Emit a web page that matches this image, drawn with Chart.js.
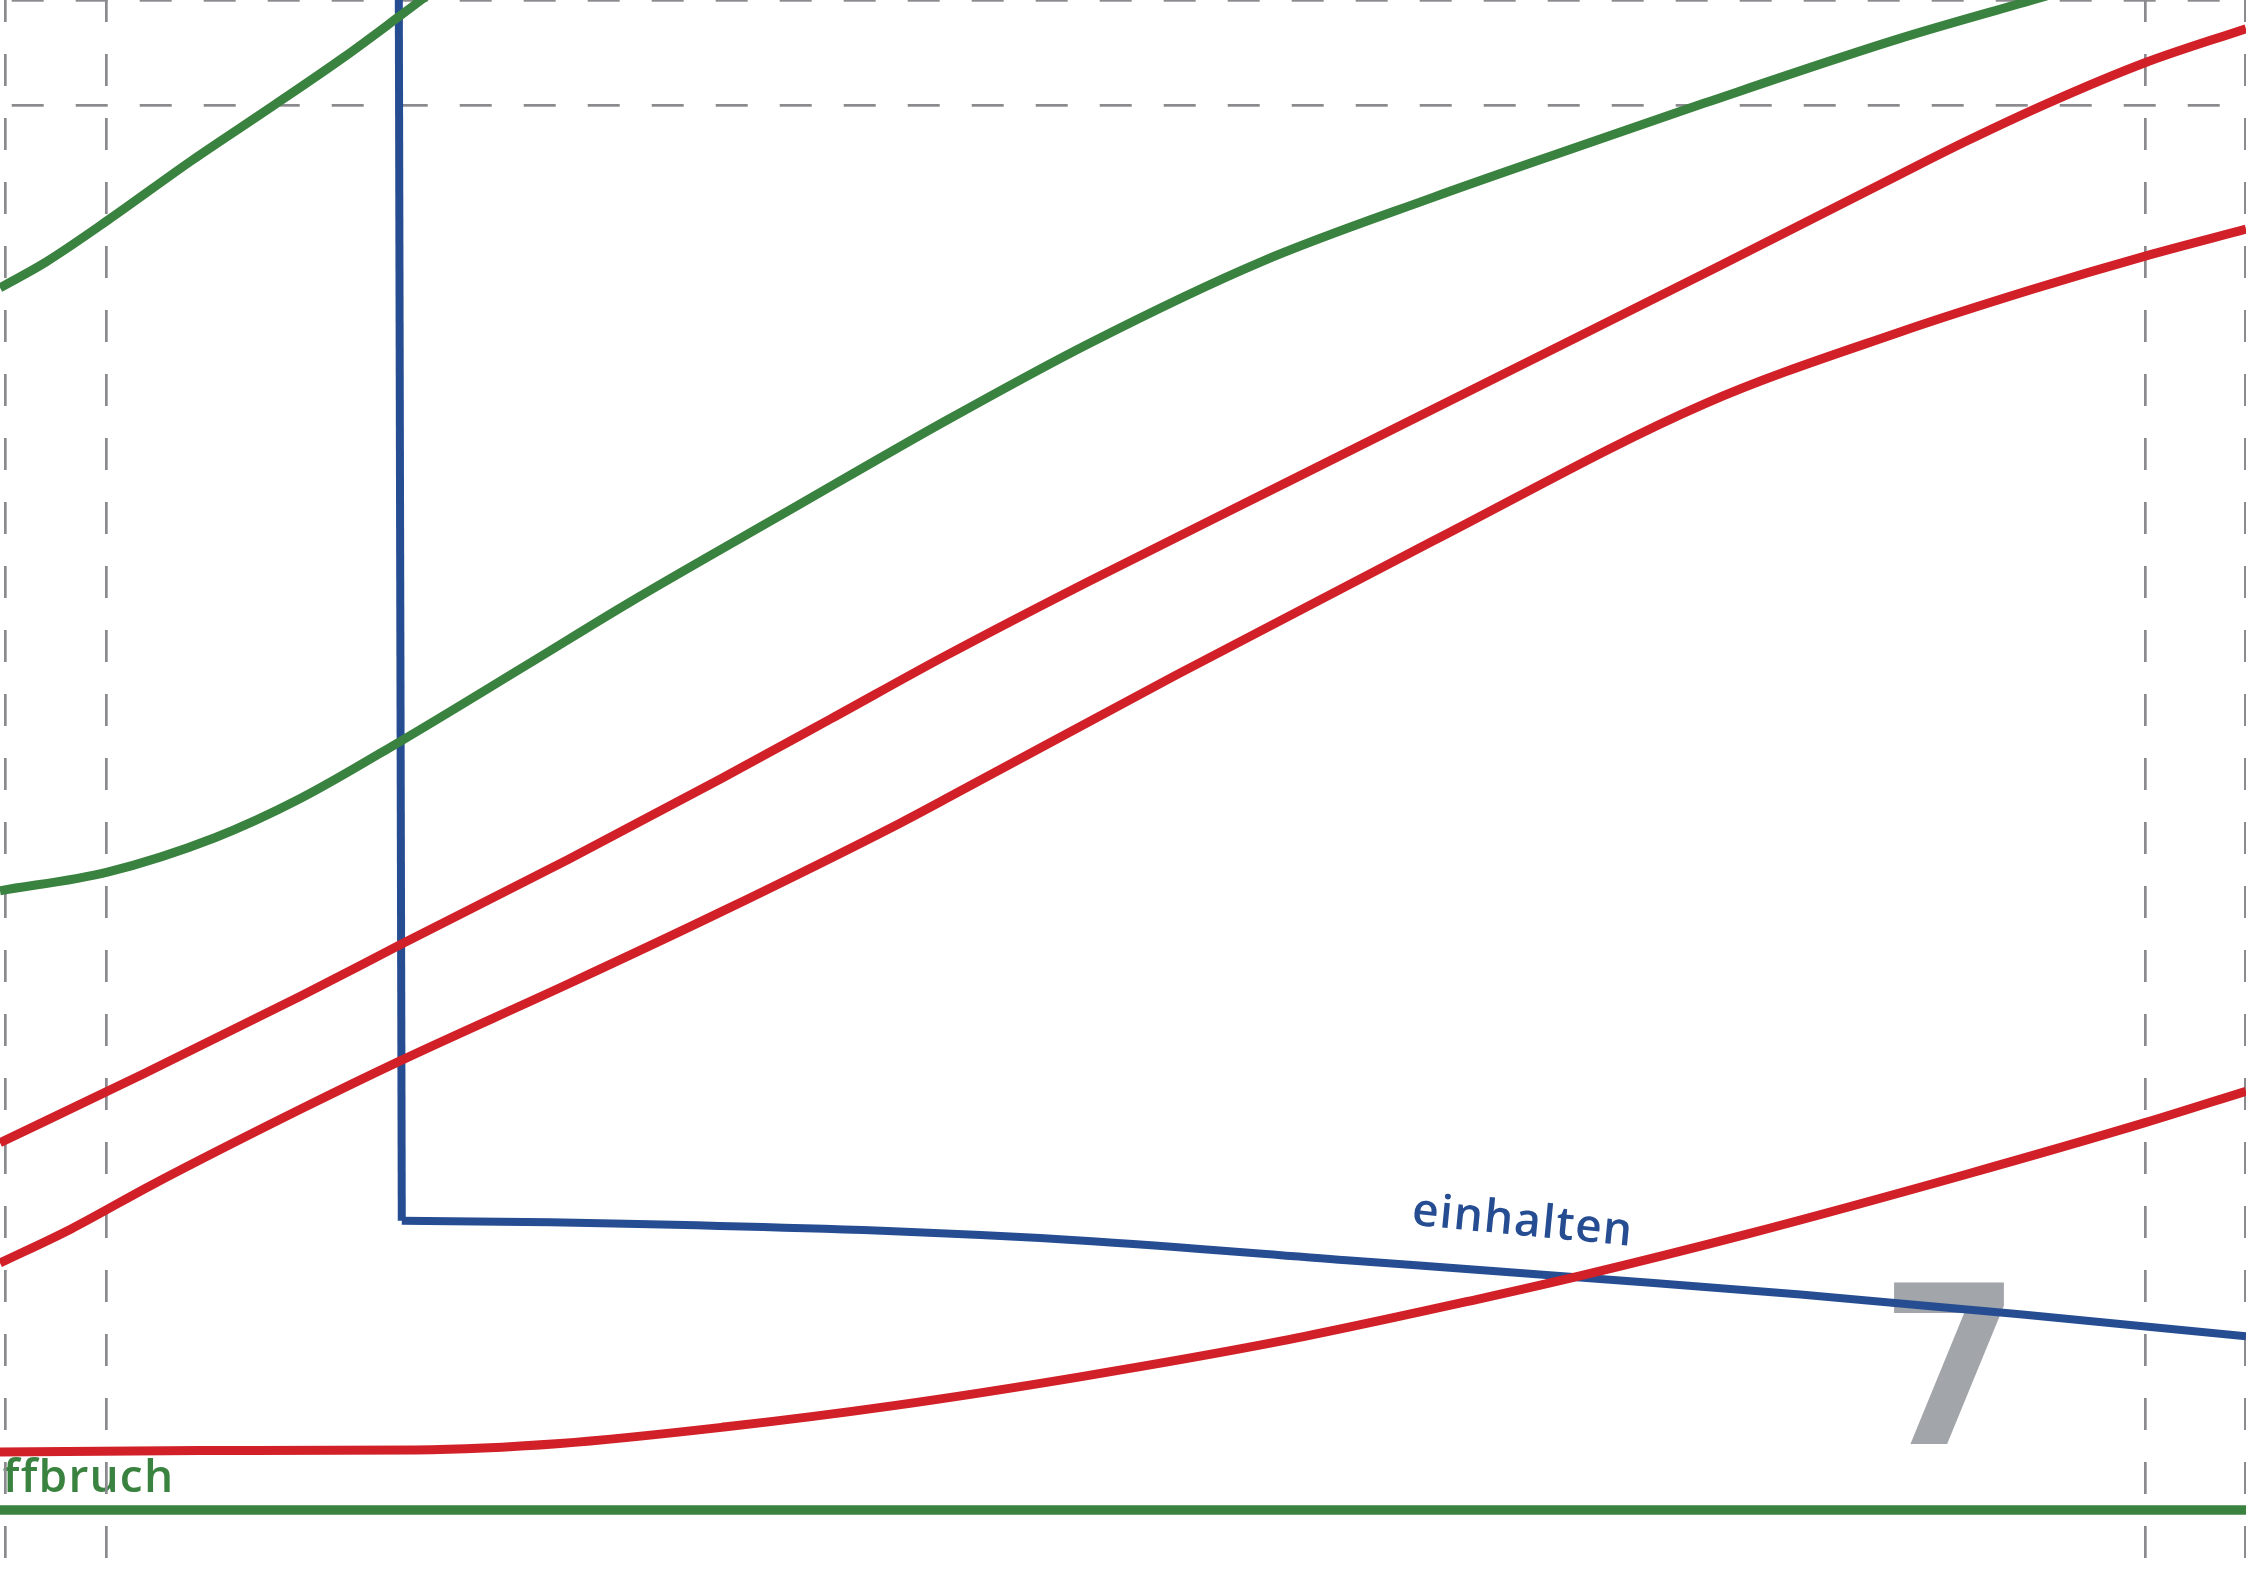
<!DOCTYPE html>
<html>
<head>
<meta charset="utf-8">
<script src="https://cdn.jsdelivr.net/npm/chart.js@4.4.1/dist/chart.umd.min.js"></script>
<style>
    html, body { margin: 0; padding: 0; background: #fff; overflow: hidden; }
    canvas { display: block; }
</style>
</head>
<body>
<canvas id="diagram" width="2246" height="1588"></canvas>
<script>
// No axis is printed, so everything is read in picture units:
// x to the right, y measured down from the top edge.
const xGridAt = [3.5, 74.5, 1497.5, 1567.7];
const yGridAt = [0.5, 73.3];

const greenSteep = [[0, 201], [32, 183], [75, 154], [134, 112], [192, 73], [240, 40], [278, 12], [294, 0], [310, -12]];
const greenUpper = [[0, 622], [75, 609], [150, 585], [209, 558], [279, 518], [370, 463], [439, 421], [550, 357], [660, 294],
    [760, 240], [880, 183], [1000, 138], [1100, 103], [1190, 72], [1326, 27], [1419, 0], [1450, -9]];
const greenBase = [[0, 1054.5], [1568, 1054.5]];

const redUpper = [[0, 798], [100, 750], [209, 696], [279, 660], [397, 600], [503, 544], [580, 502], [660, 458], [760, 406],
    [900, 336], [1050, 261], [1200, 186], [1326, 122], [1373, 98.5], [1431, 71.5], [1497, 44], [1568, 20]];
const redLower = [[0, 882], [50, 858], [105, 828], [209, 775], [279, 741], [397, 687], [503, 637], [628, 575], [660, 558],
    [820, 472], [1000, 378], [1190, 282], [1326, 232], [1419, 202], [1497, 179], [1568, 160]];
const redFlat = [[0, 1014], [140, 1013], [290, 1012.5], [391, 1008], [507, 996.4], [624, 981.6], [754, 961.5], [894, 936.6],
    [1033, 907], [1103, 891], [1219, 862], [1373, 820], [1497.5, 784], [1568, 762]];

const blueDrop = [[278.4, -10], [280.5, 852.5]];
const blueTail = [[280.5, 852.5], [384, 853.6], [628, 860], [754, 866.2], [940, 880], [1117, 893.2], [1257, 904],
    [1412, 918], [1568, 933.2]];

const noteText = ['einhalten', 'ffbruch', '7'];
const noteAt = [[985, 855.2], [2, 1042.1], [1313, 1008.1]];

const GREEN = '#3a823f';
const RED = '#d12028';
const BLUE = '#264d92';

function pts(list) {
    return list.map(p => ({ x: p[0], y: p[1] }));
}

function curve(list, color, width, smooth) {
    return {
        data: pts(list),
        borderColor: color,
        borderWidth: width,
        pointRadius: 0,
        pointHoverRadius: 0,
        cubicInterpolationMode: smooth ? 'monotone' : 'default',
        tension: 0,
        borderJoinStyle: 'round',
        fill: false
    };
}

// labels and the white page go under the grid and lines
const sketchNotes = {
    id: 'sketchNotes',
    beforeDraw(chart) {
        const ctx = chart.ctx;
        const x = chart.scales.x, y = chart.scales.y;
        ctx.save();
        ctx.fillStyle = '#ffffff';
        ctx.fillRect(0, 0, chart.width, chart.height);
        ctx.textBaseline = 'alphabetic';
        ctx.textAlign = 'left';

        ctx.fillStyle = '#a2a5a9';
        ctx.font = 'bold 222px "DejaVu Sans Condensed", "DejaVu Sans", sans-serif';
        ctx.fillText(noteText[2], x.getPixelForValue(noteAt[2][0]), y.getPixelForValue(noteAt[2][1]));

        ctx.font = '600 46px "Open Sans", "DejaVu Sans Condensed", sans-serif';
        ctx.letterSpacing = '1.2px';
        ctx.fillStyle = GREEN;
        ctx.fillText(noteText[1], x.getPixelForValue(noteAt[1][0]), y.getPixelForValue(noteAt[1][1]));

        ctx.fillStyle = BLUE;
        ctx.translate(x.getPixelForValue(noteAt[0][0]), y.getPixelForValue(noteAt[0][1]));
        ctx.rotate(5.5 * Math.PI / 180);
        ctx.fillText(noteText[0], 0, 0);
        ctx.restore();
    }
};

new Chart(document.getElementById('diagram'), {
    type: 'line',
    data: {
        datasets: [
            curve(greenSteep, GREEN, 9, true),
            curve(greenUpper, GREEN, 9, true),
            curve(redUpper, RED, 9, true),
            curve(redLower, RED, 9, true),
            curve(redFlat, RED, 9, true),
            curve(blueDrop, BLUE, 8, false),
            curve(blueTail, BLUE, 8, true),
            curve(greenBase, GREEN, 9.5, false)
        ]
    },
    options: {
        responsive: false,
        devicePixelRatio: 1,
        animation: false,
        events: [],
        layout: { padding: { left: 0, right: 0, top: 0, bottom: 30 } },
        plugins: {
            legend: { display: false },
            tooltip: { enabled: false }
        },
        scales: {
            x: {
                type: 'linear',
                min: 0,
                max: 1568,
                afterBuildTicks: axis => { axis.ticks = xGridAt.map(v => ({ value: v })); },
                ticks: { display: false },
                grid: { color: '#8b8b8f', lineWidth: 2.7, drawTicks: false },
                border: { display: false, dash: [32, 32], dashOffset: 10 }
            },
            y: {
                type: 'linear',
                reverse: true,
                min: 0,
                max: 1088,
                afterBuildTicks: axis => { axis.ticks = yGridAt.map(v => ({ value: v })); },
                ticks: { display: false },
                grid: { color: '#8b8b8f', lineWidth: 2.7, drawTicks: false },
                border: { display: false, dash: [32, 32], dashOffset: 52.3 }
            }
        }
    },
    plugins: [sketchNotes]
});
</script>
</body>
</html>
